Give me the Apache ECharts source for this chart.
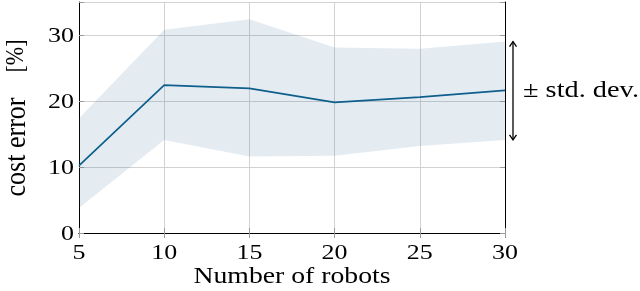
<!DOCTYPE html>
<html><head><meta charset="utf-8">
<script src="https://cdn.jsdelivr.net/npm/echarts@6/dist/echarts.min.js"></script>
<style>html,body{margin:0;padding:0;background:#fff}#c{width:640px;height:291px}</style>
</head><body><div id="c"></div>
<script>
const robots = [5, 10, 15, 20, 25, 30];
const meanErr = [10.2, 22.4, 21.9, 19.8, 20.6, 21.6];
const upperErr = [17.4, 30.8, 32.4, 28.1, 27.9, 29.0];
const lowerErr = [3.8, 14.1, 11.6, 11.7, 13.2, 14.1];
const xTicks = [5, 10, 15, 20, 25, 30];
const yTicks = [0, 10, 20, 30];
const xName = 'Number of robots';
const yName = 'cost error';
const yUnit = '[%]';
const bandLabel = '± std. dev.';

const font = 'Liberation Serif';
const SX = 1.18;
const chart = echarts.init(document.getElementById('c'), null, {renderer: 'canvas'});
const meanData = robots.map((x, i) => [x, meanErr[i]]);
const bandData = robots.map((x, i) => [x, lowerErr[i], upperErr[i]]);

const frameAxis = {
  axisLine: {show: true, lineStyle: {color: '#000', width: 1}},
  axisTick: {show: true, inside: true, length: 5, lineStyle: {color: '#9a9a9a'}},
  axisLabel: {show: false}
};
const baseX = {type: 'value', min: 5, max: 30, interval: 5};
const baseY = {type: 'value', min: 0, max: 35, interval: 10};

chart.setOption({
  animation: false,
  grid: {left: 79, right: 135, top: 2, bottom: 58},
  xAxis: [
    Object.assign({}, baseX, frameAxis, {position: 'bottom',
      splitLine: {show: true, lineStyle: {color: '#d2d2d2', width: 1}}}),
    Object.assign({}, baseX, frameAxis, {position: 'top', splitLine: {show: false}})
  ],
  yAxis: [
    Object.assign({}, baseY, frameAxis, {position: 'left',
      splitLine: {show: true, lineStyle: {color: '#d2d2d2', width: 1}}}),
    Object.assign({}, baseY, frameAxis, {position: 'right', splitLine: {show: false}})
  ],
  series: [
    {type: 'custom', data: bandData, silent: true, z: 1,
     encode: {x: 0, y: [1, 2]},
     renderItem: function (params, api) {
       if (params.dataIndex !== 0) return null;
       const pts = [];
       for (let i = 0; i < robots.length; i++) pts.push(api.coord([robots[i], upperErr[i]]));
       for (let i = robots.length - 1; i >= 0; i--) pts.push(api.coord([robots[i], lowerErr[i]]));
       return {type: 'polygon', shape: {points: pts},
               style: {fill: 'rgba(30,100,150,0.12)', stroke: null}};
     }},
    {type: 'line', data: meanData, symbol: 'none', z: 3,
     lineStyle: {color: '#0f5f8c', width: 1.7}}
  ]
});

const g = [];
const txt = (text, x, y, size, align, extra) => Object.assign({
  type: 'text', x: x, y: y, scaleX: SX,
  style: {text: text, fontFamily: font, fontSize: size, fill: '#000', align: align, verticalAlign: 'middle'}
}, extra || {});

xTicks.forEach(v => {
  const p = chart.convertToPixel({gridIndex: 0}, [v, 0]);
  g.push(txt(String(v), p[0], p[1] + 20, 22, 'center'));
});
yTicks.forEach(v => {
  const p = chart.convertToPixel({gridIndex: 0}, [5, v]);
  g.push(txt(String(v), p[0] - 5, p[1] + 1, 22, 'right'));
});
const pL = chart.convertToPixel({gridIndex: 0}, [5, 0]);
const pR = chart.convertToPixel({gridIndex: 0}, [30, 0]);
const pT = chart.convertToPixel({gridIndex: 0}, [5, 35]);
g.push(txt(xName, (pL[0] + pR[0]) / 2, pL[1] + 44, 23.5, 'center'));
g.push({type: 'text', x: 17, y: pL[1] - 86, rotation: Math.PI / 2, scaleY: 1.1,
  style: {text: yName, fontFamily: font, fontSize: 26, fill: '#000', align: 'center', verticalAlign: 'middle'}});
g.push({type: 'text', x: 17, y: pT[1] + 54, rotation: Math.PI / 2, scaleY: 1.1,
  style: {text: yUnit, fontFamily: font, fontSize: 22, fill: '#000', align: 'center', verticalAlign: 'middle'}});

const last = robots.length - 1;
const pTop = chart.convertToPixel({gridIndex: 0}, [robots[last], upperErr[last]]);
const pBot = chart.convertToPixel({gridIndex: 0}, [robots[last], lowerErr[last]]);
const ax = pTop[0] + 8;
const yMid = (pTop[1] + pBot[1]) / 2;
g.push({type: 'line', shape: {x1: ax, y1: pTop[1], x2: ax, y2: pBot[1]}, style: {stroke: '#000', lineWidth: 1.3}});
g.push({type: 'polyline', shape: {points: [[ax - 3.5, pTop[1] + 5], [ax, pTop[1]], [ax + 3.5, pTop[1] + 5]]},
  style: {stroke: '#000', lineWidth: 1.3, fill: null}});
g.push({type: 'polyline', shape: {points: [[ax - 3.5, pBot[1] - 5], [ax, pBot[1]], [ax + 3.5, pBot[1] - 5]]},
  style: {stroke: '#000', lineWidth: 1.3, fill: null}});
g.push(txt(bandLabel, ax + 10, yMid, 24, 'left'));

chart.setOption({graphic: g});
</script></body></html>
